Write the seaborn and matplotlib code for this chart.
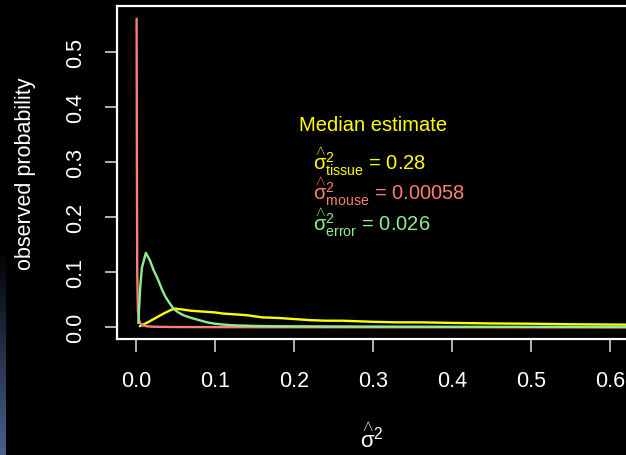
import matplotlib
matplotlib.use("Agg")
import matplotlib.pyplot as plt
import numpy as np
import pandas as pd
import seaborn as sns

# Posterior draws summarised as observed probability per variance bin
mouse_x = [0.0008, 0.0012, 0.0016, 0.0025, 0.004, 0.006, 0.009, 0.013, 0.02,
           0.03, 0.05, 0.1, 0.2, 0.3, 0.4, 0.5, 0.6, 0.7]
mouse_p = [0.56, 0.30, 0.10, 0.03, 0.012, 0.006, 0.0035, 0.002, 0.0012,
           0.0008, 0.0005, 0.0003, 0.0002, 0.0001, 0.0001, 0.0001, 0.0, 0.0]

error_x = [0.003, 0.0055, 0.0075, 0.0125, 0.0175, 0.0225, 0.0275, 0.0325,
           0.0375, 0.0425, 0.0475, 0.0525, 0.06, 0.07, 0.08, 0.09, 0.1, 0.11,
           0.125, 0.15, 0.175, 0.2, 0.25, 0.3, 0.35, 0.4, 0.5, 0.6, 0.7]
error_p = [0.008, 0.075, 0.108, 0.135, 0.122, 0.103, 0.088, 0.070, 0.055,
           0.044, 0.034, 0.028, 0.022, 0.017, 0.013, 0.009, 0.0065, 0.005,
           0.0035, 0.0025, 0.002, 0.0018, 0.0015, 0.0013, 0.0011, 0.001,
           0.0008, 0.0006, 0.0005]

tissue_x = [0.005, 0.015, 0.025, 0.035, 0.045, 0.05, 0.06, 0.07, 0.08, 0.09,
            0.1, 0.11, 0.12, 0.13, 0.14, 0.15, 0.16, 0.18, 0.2, 0.22, 0.24,
            0.26, 0.28, 0.3, 0.33, 0.36, 0.4, 0.45, 0.5, 0.55, 0.6, 0.65, 0.7]
tissue_p = [0.002, 0.009, 0.017, 0.025, 0.032, 0.034, 0.032, 0.030, 0.029,
            0.028, 0.027, 0.025, 0.024, 0.023, 0.022, 0.020, 0.018, 0.017,
            0.015, 0.013, 0.012, 0.012, 0.011, 0.010, 0.009, 0.009, 0.008,
            0.007, 0.0065, 0.0055, 0.005, 0.0045, 0.004]

x_ticks = [0.0, 0.1, 0.2, 0.3, 0.4, 0.5, 0.6]
y_ticks = [0.0, 0.1, 0.2, 0.3, 0.4, 0.5]

components = ["tissue", "mouse", "error"]
median_values = ["0.28", "0.00058", "0.026"]
component_colors = {"tissue": "#FFFF00", "mouse": "#FA8072", "error": "#90EE90"}

sns.set_theme(style="ticks")
plt.rcParams["font.family"] = ["Liberation Sans", "DejaVu Sans"]
plt.rcParams["mathtext.fontset"] = "custom"
plt.rcParams["mathtext.rm"] = "Liberation Sans"
plt.rcParams["mathtext.it"] = "Liberation Sans"
plt.rcParams["mathtext.bf"] = "Liberation Sans:bold"

SIGMA_HAT = r"\overset{\wedge}{\sigma}"

frames = [
    pd.DataFrame({"var": tissue_x, "prob": tissue_p, "component": "tissue"}),
    pd.DataFrame({"var": mouse_x, "prob": mouse_p, "component": "mouse"}),
    pd.DataFrame({"var": error_x, "prob": error_p, "component": "error"}),
]
df = pd.concat(frames, ignore_index=True)

fig = plt.figure(figsize=(6.26, 4.56), dpi=100, facecolor="black")
ax = fig.add_axes([0.1869, 0.2544, 0.8632, 0.7303], facecolor="black")

sns.lineplot(data=df, x="var", y="prob", hue="component",
             hue_order=components, palette=component_colors,
             linewidth=1.7, legend=False, ax=ax, sort=True, estimator=None)

ax.set_xlim(-0.024, 0.66)
ax.set_ylim(-0.0212, 0.583)
ax.set_xticks(x_ticks)
ax.set_xticklabels([f"{t:.1f}" for t in x_ticks])
ax.set_yticks(y_ticks)
ax.set_yticklabels([f"{t:.1f}" for t in y_ticks], rotation=90, va="center")

for side in ["top", "bottom", "left", "right"]:
    ax.spines[side].set_visible(True)
    ax.spines[side].set_color("white")
    ax.spines[side].set_linewidth(1.6)

ax.tick_params(axis="both", colors="#d0d0d0", labelcolor="white",
               direction="out", length=9, width=1.2, labelsize=15.5)
ax.tick_params(axis="x", pad=13)
ax.tick_params(axis="y", pad=13)

ax.set_ylabel("observed probability", color="white", fontsize=15.5)
ax.yaxis.set_label_coords(-0.150, 0.5)
ax.set_xlabel("$" + SIGMA_HAT + "^2$", color="white", fontsize=16)
ax.xaxis.set_label_coords(0.472, -0.25)

# Median estimates of each variance component
ax.text(0.3, 0.358, "Median estimate", color=component_colors["tissue"],
        fontsize=14.5, ha="center", va="baseline")
for i, (comp, val) in enumerate(zip(components, median_values)):
    ax.text(0.224, 0.287 - i * 0.056,
            "$" + SIGMA_HAT + r"^2_{\mathrm{" + comp + "}}$" + " = " + val,
            color=component_colors[comp], fontsize=14.5,
            ha="left", va="baseline")

# Slim shaded strip along the lower left edge
strip = fig.add_axes([0.0, 0.0, 0.008, 0.45])
grad = np.linspace(0, 1, 256).reshape(-1, 1)
strip.imshow(grad, aspect="auto", origin="upper",
             cmap=matplotlib.colors.LinearSegmentedColormap.from_list(
                 "strip", ["#000000", "#4a6090"]))
strip.set_axis_off()

fig.savefig("out.png", dpi=100, facecolor="black")
